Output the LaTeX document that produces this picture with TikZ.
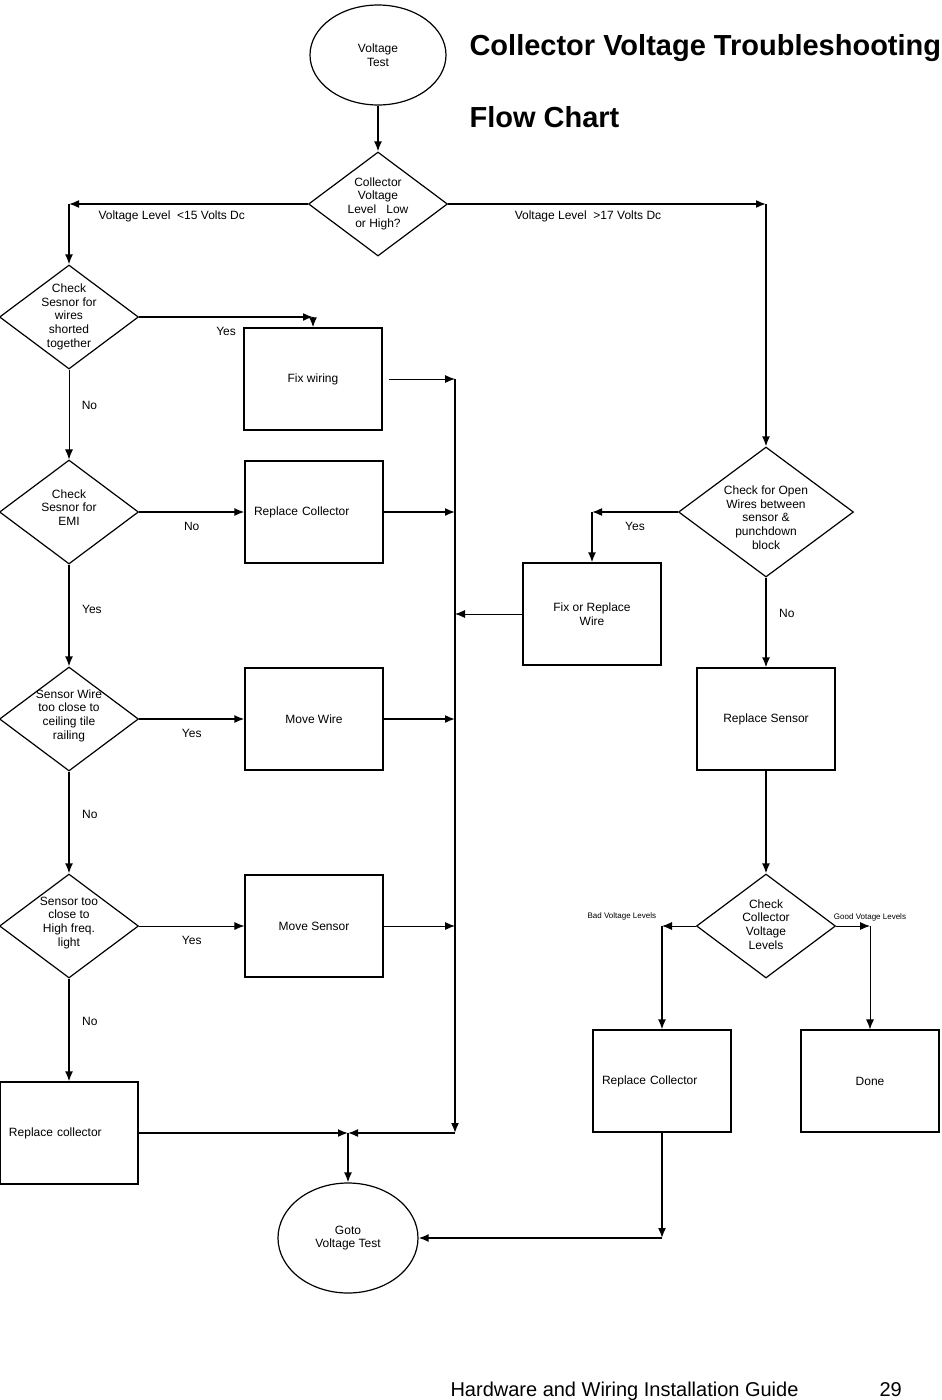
\documentclass[tikz,border=0pt]{standalone}
\usepackage{fontspec}
\setmainfont{Liberation Sans}
\usepackage{tikz}
\usetikzlibrary{shapes,arrows.meta,calc,positioning}
\tikzstyle{arrow} = [draw, line width=1.6pt, -{Latex[length=10pt, width=8pt]}]
\tikzstyle{thinline} = [line width=0.9pt]
\tikzstyle{block} = [rectangle, draw, line width=1.2pt, minimum width=138pt, minimum height=102pt, inner sep=0pt]
\tikzstyle{decision} = [diamond, draw, line width=1.2pt, minimum width=139pt, minimum height=104pt, inner sep=0pt]
\tikzstyle{term} = [ellipse, draw, line width=1.2pt, inner sep=0pt, align=center]
\newcommand{\dtext}[2][0pt]{\raisebox{-#1}[0pt][0pt]{\smash{\begin{tabular}{@{}c@{}}#2\end{tabular}}}}

\begin{document}
\begin{tikzpicture}[
      x=1pt, y=-1pt,
      auto,
      node distance = 207pt,
      font=\fontsize{12}{13.75}\selectfont
    ]
      \useasboundingbox (0,0) rectangle (942,1400);

      % top of the chart
      \node[term, minimum width=136pt, minimum height=100pt] (vTest) at (378,55) {Voltage\\Test};
      \node[anchor=base west, font=\fontsize{29}{32}\selectfont\bfseries] (title) at (466,55) {Collector Voltage Troubleshooting};
      \node[anchor=base west, font=\fontsize{29}{32}\selectfont\bfseries] (subtitle) at (466,127) {Flow Chart};
      \node[decision] (collLevel) at (378,204) {\dtext[3pt]{Collector\\Voltage\\Level\ \ \ Low\\or High?}};

      % low voltage column
      \node[decision] (chkShort) at (69,317) {\dtext[3pt]{Check\\Sesnor for\\wires\\shorted\\together}};
      \node[decision, below of=chkShort, node distance=195pt] (chkEmi) {\dtext{Check\\Sesnor for\\EMI}};
      \node[decision, below of=chkEmi] (chkRail) {\dtext{Sensor Wire\\too close to\\ceiling tile\\railing}};
      \node[decision, below of=chkRail] (chkLight) {\dtext{Sensor too\\close to\\High freq.\\light}};
      \node[block, below of=chkLight, text width=120pt, align=left] (replCollL) {Replace collector};

      \node[block] (fixWiring) at (313,379) {Fix wiring};
      \node[block, right of=chkEmi, node distance=245pt, text width=120pt, align=left] (replCollM) {Replace Collector};
      \node[block, right of=chkRail, node distance=245pt] (moveWire) {Move Wire};
      \node[block, right of=chkLight, node distance=245pt] (moveSensor) {Move Sensor};

      % high voltage column
      \node[decision, minimum width=175pt, minimum height=130pt] (chkOpen) at (766,512) {\dtext[10pt]{Check for Open\\Wires between\\sensor \&\\punchdown\\block}};
      \node[block, align=center] (fixWire) at (592,614) {Fix or Replace\\Wire};
      \node[block, below of=chkOpen] (replSensor) {Replace Sensor};
      \node[decision, below of=replSensor] (chkColl) {\dtext[3pt]{Check\\Collector\\Voltage\\Levels}};
      \node[block, text width=120pt, align=left] (replCollR) at (662,1081) {Replace Collector};
      \node[block, right of=replCollR, node distance=208pt] (done) {Done};

      \node[term, minimum width=140pt, minimum height=110pt] (gotoTest) at (348,1238) {Goto\\Voltage Test};

      \node[anchor=base west, font=\fontsize{20}{24}\selectfont] (footer) at (447,1396) {Hardware and Wiring Installation Guide};
      \node[anchor=base west, font=\fontsize{20}{24}\selectfont] (pageNo) at (876,1396) {29};

      \coordinate (lowTurn) at (69,204);
      \coordinate (highTurn) at (766,204);
      \coordinate (shortTurn) at (313,317);
      \coordinate (openTurn) at (592,512);
      \coordinate (badTurn) at (662,926);
      \coordinate (goodTurn) at (870,926);
      \coordinate (busFix) at (455,379);
      \coordinate (busRC) at (455,512);
      \coordinate (busFR) at (455,614);
      \coordinate (busMW) at (455,719);
      \coordinate (busMS) at (455,926);
      \coordinate (busEnd) at (455,1133);
      \coordinate (gotoJoin) at (348,1133);
      \coordinate (replDown) at (662,1238);

      \draw[arrow] (vTest) -- (collLevel);
      \draw[arrow] (collLevel.west) -- node[below=3pt, pos=0.57] {Voltage Level\ \ <15 Volts Dc} (lowTurn);
      \draw[arrow] (collLevel.east) -- node[below=3pt, pos=0.44] {Voltage Level\ \ >17 Volts Dc} (highTurn);
      \draw[arrow] (lowTurn) -- (chkShort.north);
      \draw[arrow] (highTurn) -- (chkOpen.north);

      \draw[arrow] (chkShort.east) -- node[below=6pt] {Yes} (shortTurn);
      \draw[arrow] (shortTurn) -- (fixWiring.north);
      \draw[arrow, thinline] (chkShort) -- node[right=9pt, pos=0.4] {No} (chkEmi);
      \draw[arrow] (chkEmi) -- node[below=6pt] {No} (replCollM);
      \draw[arrow] (chkEmi) -- node[right=9pt, pos=0.44] {Yes} (chkRail);
      \draw[arrow] (chkRail) -- node[below=6pt] {Yes} (moveWire);
      \draw[arrow] (chkRail) -- node[right=9pt, pos=0.42] {No} (chkLight);
      \draw[arrow, thinline] (chkLight) -- node[below=6pt] {Yes} (moveSensor);
      \draw[arrow] (chkLight) -- node[right=9pt, pos=0.42] {No} (replCollL);

      \draw[arrow, thinline, shorten <=6pt] (fixWiring.east) -- (busFix);
      \draw[arrow] (replCollM) -- (busRC);
      \draw[arrow, thinline] (fixWire) -- (busFR);
      \draw[arrow] (moveWire) -- (busMW);
      \draw[arrow, thinline] (moveSensor) -- (busMS);
      \draw[arrow] (busFix) -- (busEnd);
      \draw[arrow] (busEnd) -- (gotoJoin);
      \draw[arrow] (replCollL) -- (gotoJoin);
      \draw[arrow] (gotoJoin) -- (gotoTest);

      \draw[arrow] (chkOpen.west) -- node[below=6pt] {Yes} (openTurn);
      \draw[arrow] (openTurn) -- (fixWire.north);
      \draw[arrow] (chkOpen) -- node[right=9pt, pos=0.4] {No} (replSensor);
      \draw[arrow] (replSensor) -- (chkColl);
      \draw[arrow, thinline] (chkColl.west) -- node[pos=1, above left=3pt, font=\fontsize{8}{9}\selectfont] {Bad Voltage Levels} (badTurn);
      \draw[arrow] (badTurn) -- (replCollR.north);
      \draw[arrow, thinline] (chkColl.east) -- node[pos=1, above=1pt, font=\fontsize{8}{9}\selectfont] {Good Votage Levels} (goodTurn);
      \draw[arrow, thinline] (goodTurn) -- (done.north);
      \draw[arrow] (replCollR) -- (replDown);
      \draw[arrow] (replDown) -- (gotoTest);
    \end{tikzpicture}
\end{document}
